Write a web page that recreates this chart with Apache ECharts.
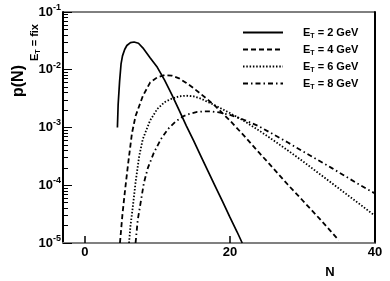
<!DOCTYPE html>
<html><head><meta charset="utf-8">
<script src="https://cdn.jsdelivr.net/npm/echarts@6/dist/echarts.min.js"></script>
<style>html,body{margin:0;padding:0;background:#fff}#c{width:390px;height:281px}</style>
</head><body><div id="c"></div>
<script>
// ---- data ----
const seriesNames = ['2 GeV', '4 GeV', '6 GeV', '8 GeV'];
const n2 = [4.5, 4.6, 4.8, 5.0, 5.2, 5.5, 5.8, 6.3, 6.8, 7.4, 8.0, 9.0, 10.0, 11.0, 12.0, 13.0, 14.0, 15.0, 16.0, 17.0, 18.0, 19.0, 20.0, 21.0, 21.7];
const p2 = [1.0e-3, 2.5e-3, 6.3e-3, 1.26e-2, 1.74e-2, 2.24e-2, 2.63e-2, 2.95e-2, 3.02e-2, 2.88e-2, 2.4e-2, 1.62e-2, 1.10e-2, 6.6e-3, 3.7e-3, 2.0e-3, 1.07e-3, 5.9e-4, 3.2e-4, 1.74e-4, 9.5e-5, 5.2e-5, 2.8e-5, 1.55e-5, 1.0e-5];
const n4 = [4.85, 5.2, 5.6, 6.0, 6.5, 7.0, 8.0, 9.0, 10.0, 11.0, 12.0, 13.0, 14.0, 15.0, 16.0, 17.0, 18.0, 20.0, 22.0, 24.0, 26.0, 28.0, 30.0, 32.0, 34.0, 35.0];
const p4 = [1.0e-5, 3.2e-5, 9.3e-5, 2.5e-4, 7.9e-4, 1.58e-3, 3.5e-3, 6.0e-3, 7.4e-3, 8.1e-3, 7.9e-3, 7.1e-3, 5.9e-3, 4.8e-3, 3.8e-3, 3.0e-3, 2.34e-3, 1.32e-3, 7.1e-4, 3.7e-4, 1.95e-4, 1.02e-4, 5.5e-5, 2.95e-5, 1.55e-5, 1.12e-5];
const n6 = [6.1, 6.3, 6.6, 7.0, 7.5, 8.0, 9.0, 10.0, 11.0, 12.0, 13.0, 14.0, 15.0, 16.0, 18.0, 20.0, 22.0, 24.0, 26.0, 28.0, 30.0, 32.0, 34.0, 36.0, 38.0, 40.0];
const p6 = [1.0e-5, 2.0e-5, 4.0e-5, 1.12e-4, 3.2e-4, 6.3e-4, 1.32e-3, 2.1e-3, 2.75e-3, 3.16e-3, 3.47e-3, 3.55e-3, 3.47e-3, 3.16e-3, 2.4e-3, 1.78e-3, 1.29e-3, 8.9e-4, 6.0e-4, 4.0e-4, 2.63e-4, 1.7e-4, 1.1e-4, 7.1e-5, 4.6e-5, 2.95e-5];
const n8 = [7.0, 7.3, 7.7, 8.15, 8.7, 9.5, 10.5, 11.5, 12.5, 13.5, 14.5, 15.5, 16.5, 17.5, 18.5, 20.0, 22.0, 24.0, 26.0, 28.0, 30.0, 32.0, 34.0, 36.0, 38.0, 40.0];
const p8 = [1.0e-5, 2.5e-5, 5.0e-5, 1.1e-4, 2.0e-4, 3.6e-4, 6.3e-4, 9.5e-4, 1.26e-3, 1.55e-3, 1.74e-3, 1.86e-3, 1.9e-3, 1.9e-3, 1.82e-3, 1.66e-3, 1.35e-3, 1.05e-3, 7.6e-4, 5.5e-4, 3.9e-4, 2.8e-4, 2.0e-4, 1.41e-4, 1.0e-4, 7.2e-5];
const xTickValues = [0, 20, 40];
const yDecadeExponents = [-5, -4, -3, -2, -1];

// ---- chart ----
const FONT = '"Liberation Sans", Arial, sans-serif';
const minorLogTicks = [];
for (let i = 0; i < yDecadeExponents.length - 1; i++) {
  for (let d = 2; d <= 9; d++) minorLogTicks.push(yDecadeExponents[i] + Math.log10(d));
}
function pairs(xs, ys) { return xs.map((x, i) => [x, ys[i]]); }
const styles = [
  { type: 'solid', width: 1.7 },
  { type: [5, 3], width: 1.8 },
  { type: [1.5, 1.8], width: 1.8 },
  { type: [5, 3, 1.5, 3], width: 1.8 }
];
const datasets = [pairs(n2, p2), pairs(n4, p4), pairs(n6, p6), pairs(n8, p8)];

const chart = echarts.init(document.getElementById('c'), null, { renderer: 'canvas' });
chart.setOption({
  animation: false,
  backgroundColor: '#fff',
  grid: { left: 63, right: 15, top: 12, bottom: 38, show: true, borderColor: '#000', borderWidth: 1 },
  legend: {
    orient: 'vertical', left: 237, top: 22, itemWidth: 40, itemHeight: 10, itemGap: 4.5,
    data: seriesNames,
    itemStyle: { color: 'rgba(0,0,0,0)', borderWidth: 0, opacity: 0 },
    formatter: name => '{e|E}{t|T}{r| = ' + name + '}',
    textStyle: {
      color: '#000', fontFamily: FONT, fontWeight: 'bold', fontSize: 11,
      rich: {
        e: { fontSize: 11, fontWeight: 'bold', fontFamily: FONT, color: '#000', padding: [0, 0, 0, 15] },
        t: { fontSize: 7, fontWeight: 'bold', fontFamily: FONT, color: '#000', padding: [7, 0, 0, 0] },
        r: { fontSize: 11, fontWeight: 'bold', fontFamily: FONT, color: '#000' }
      }
    }
  },
  xAxis: {
    type: 'value', min: -3, max: 40,
    axisLine: { onZero: false, lineStyle: { color: '#808080', width: 2 } },
    axisTick: { inside: true, length: 7, customValues: xTickValues, lineStyle: { color: '#000', width: 1.5 } },
    axisLabel: { customValues: xTickValues, color: '#000', fontFamily: FONT, fontWeight: 'bold', fontSize: 13, margin: 3 },
    splitLine: { show: false }
  },
  yAxis: [
    {
      type: 'log', logBase: 10, min: 1e-5, max: 1e-1,
      axisLine: { onZero: false, lineStyle: { color: '#000', width: 2 } },
      axisTick: { inside: true, length: 9, lineStyle: { color: '#000', width: 1 } },
      axisLabel: {
        margin: 2,
        formatter: v => '{b|10}{s|' + Math.round(Math.log10(v)) + '}',
        rich: {
          b: { fontSize: 13, fontWeight: 'bold', fontFamily: FONT, color: '#000' },
          s: { fontSize: 9, fontWeight: 'bold', fontFamily: FONT, color: '#000', padding: [0, 0, 9, 0] }
        }
      },
      splitLine: { show: false }, minorTick: { show: false }
    },
    {
      type: 'value', min: -5, max: -1, position: 'left',
      axisLine: { show: false, onZero: false },
      axisTick: { show: true, inside: true, length: 5, customValues: minorLogTicks, lineStyle: { color: '#000', width: 1 } },
      axisLabel: { show: false },
      splitLine: { show: false }
    },
    {
      type: 'value', min: 0, max: 1, position: 'right',
      axisLine: { show: true, onZero: false, lineStyle: { color: '#000', width: 2 } },
      axisTick: { show: false }, axisLabel: { show: false }, splitLine: { show: false }
    }
  ],
  series: datasets.map((d, i) => ({
    name: seriesNames[i], type: 'line', data: d, yAxisIndex: 0,
    symbol: 'none', showSymbol: false,
    lineStyle: { color: '#000', width: styles[i].width, type: styles[i].type },
    itemStyle: { color: '#000' }
  })),
  graphic: [
    { type: 'text', x: 27, y: 97, rotation: Math.PI / 2,
      style: { text: 'p(N)', fill: '#000', font: 'bold 16px ' + FONT, align: 'left', verticalAlign: 'bottom' } },
    { type: 'text', x: 28, y: 61, rotation: Math.PI / 2,
      style: {
        text: '{e|E}{t|T}{r| = fix}', align: 'left', verticalAlign: 'top',
        rich: {
          e: { fontSize: 11, fontWeight: 'bold', fontFamily: FONT, fill: '#000' },
          t: { fontSize: 7, fontWeight: 'bold', fontFamily: FONT, fill: '#000', padding: [7, 0, 0, 0] },
          r: { fontSize: 11, fontWeight: 'bold', fontFamily: FONT, fill: '#000' }
        }
      } },
    { type: 'text', x: 330, y: 272,
      style: { text: 'N', fill: '#000', font: 'bold 13px ' + FONT, align: 'center', verticalAlign: 'middle' } }
  ]
});
</script></body></html>
